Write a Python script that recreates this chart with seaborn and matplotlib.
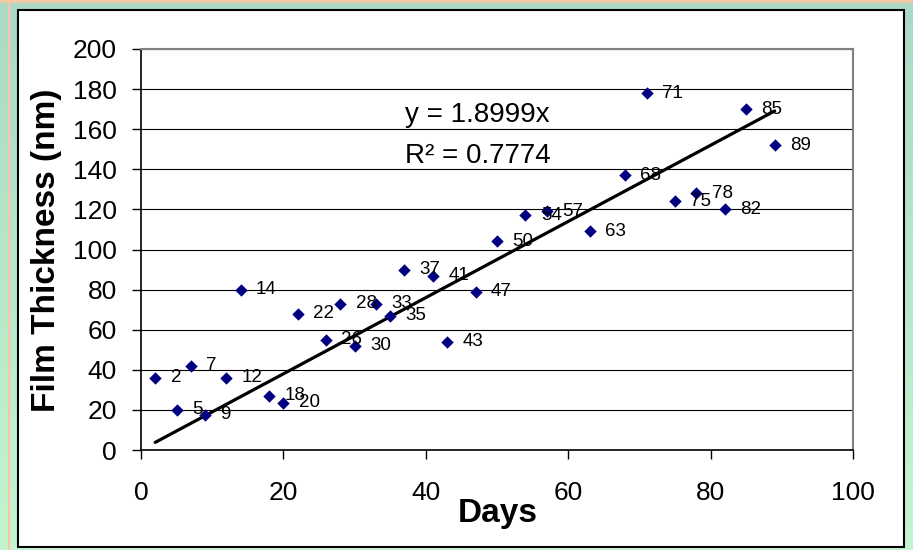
import numpy as np
import matplotlib
matplotlib.use("Agg")
import matplotlib.pyplot as plt
import seaborn as sns
from matplotlib.patches import Rectangle
from matplotlib.lines import Line2D
from matplotlib.colors import LinearSegmentedColormap

# ---- data ----
days = [2, 5, 7, 9, 12, 14, 18, 20, 22, 26, 28, 30, 33, 35, 37, 41, 43, 47,
        50, 54, 57, 63, 68, 71, 75, 78, 82, 85, 89]
thickness = [36, 20, 42, 17.5, 36, 80, 27, 23.5, 68, 55, 73, 52, 73, 67, 90, 87, 54, 79,
             104, 117, 119, 109, 137, 178, 124, 128, 120, 170, 152]
point_labels = [str(d) for d in days]
slope = 1.8999
r_squared = 0.7774
x_ticks = [0, 20, 40, 60, 80, 100]
y_ticks = [0, 20, 40, 60, 80, 100, 120, 140, 160, 180, 200]

sns.set_style("white")
plt.rcParams["font.family"] = ["Liberation Sans", "DejaVu Sans"]
plt.rcParams["text.color"] = "black"
plt.rcParams["axes.labelcolor"] = "black"

W, H = 913, 550
fig = plt.figure(figsize=(W / 100, H / 100), dpi=100)

# background gradient
bg = fig.add_axes([0, 0, 1, 1], zorder=-10)
grad = np.linspace(0, 1, 256).reshape(-1, 1)
cmap = LinearSegmentedColormap.from_list("g", ["#acd8c6", "#c6f4d0"])
bg.imshow(grad, aspect="auto", cmap=cmap, extent=[0, 1, 0, 1], origin="upper")
bg.set_xlim(0, 1)
bg.set_ylim(0, 1)
bg.axis("off")

# orange accent lines
fig.add_artist(Line2D([8.5 / W, 8.5 / W], [0, 1], color="#f5c8a0", lw=1.5,
                      transform=fig.transFigure, zorder=-8))
fig.add_artist(Line2D([0, 1], [1 - 1 / H, 1 - 1 / H], color="#f5c8a0", lw=2,
                      transform=fig.transFigure, zorder=-8))

# white chart area
fig.add_artist(Rectangle((18 / W, 1 - 547 / H), (904 - 18) / W, (547 - 10) / H,
                         facecolor="white", edgecolor="black", lw=1.5,
                         transform=fig.transFigure, zorder=-5))

ax = fig.add_axes([141 / W, 1 - 450 / H, 712 / W, 401 / H])
ax.set_facecolor("white")

trend = [slope * d for d in days]
sns.lineplot(x=days, y=trend, color="black", lw=2.3, ax=ax, zorder=2)
sns.scatterplot(x=days, y=thickness, marker="D", s=40, color="#000080",
                edgecolor="#000080", linewidth=0, ax=ax, zorder=3)

for d, t, lab in zip(days, thickness, point_labels):
    ax.annotate(lab, (d, t), xytext=(11, 0), textcoords="offset points",
                ha="left", va="center", fontsize=13.5, color="black", zorder=4)

ax.text(37.1, 163.6, "y = 1.8999x", fontsize=20, va="baseline", ha="left", color="black")
ax.text(37.1, 143.1, f"R² = {r_squared}", fontsize=20, va="baseline", ha="left", color="black")

ax.set_xlim(0, 100)
ax.set_ylim(0, 200)
ax.set_xticks(x_ticks)
ax.set_yticks(y_ticks)
ax.set_axisbelow(True)
ax.yaxis.grid(True, color="black", lw=0.8)
ax.xaxis.grid(False)

for side in ["left", "bottom"]:
    ax.spines[side].set_color("black")
    ax.spines[side].set_linewidth(1.2)
for side in ["top", "right"]:
    ax.spines[side].set_color("#808080")
    ax.spines[side].set_linewidth(1.5)

ax.tick_params(axis="both", which="major", bottom=True, left=True, direction="out",
               length=6.5, width=1, color="black", labelsize=19, labelcolor="black")
ax.tick_params(axis="x", pad=16)
ax.tick_params(axis="y", pad=11)

ax.set_xlabel("Days", fontsize=24, fontweight="bold", va="baseline", color="black")
ax.xaxis.set_label_coords(0.501, (450 - 522) / 401)
ax.set_ylabel("Film Thickness (nm)", fontsize=24, fontweight="bold", va="center", color="black")
ax.yaxis.set_label_coords((47 - 141) / 712, 0.499)

fig.savefig("out.png", dpi=100)
